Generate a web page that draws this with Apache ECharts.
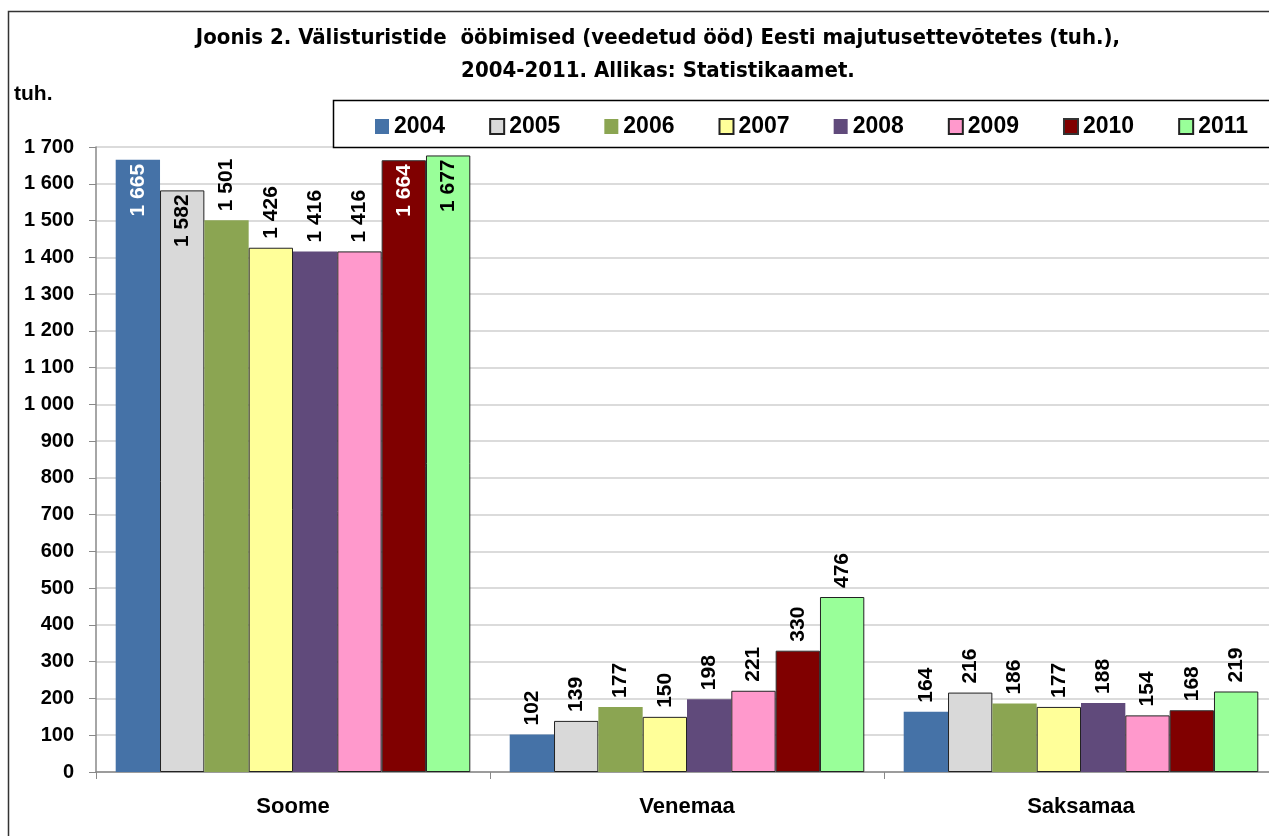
<!DOCTYPE html>
<html><head><meta charset="utf-8">
<script src="https://cdn.jsdelivr.net/npm/echarts@6/dist/echarts.min.js"></script>
<style>html,body{margin:0;padding:0;background:#fff;overflow:hidden}#c{width:1278px;height:836px}</style>
</head><body><div id="c"></div>
<script>
const categories = ['Soome', 'Venemaa', 'Saksamaa'];
const years = ['2004', '2005', '2006', '2007', '2008', '2009', '2010', '2011'];
const v2004 = [1665, 102, 164];
const v2005 = [1582, 139, 216];
const v2006 = [1501, 177, 186];
const v2007 = [1426, 150, 177];
const v2008 = [1416, 198, 188];
const v2009 = [1416, 221, 154];
const v2010 = [1664, 330, 168];
const v2011 = [1677, 476, 219];
const yTicks = [0, 100, 200, 300, 400, 500, 600, 700, 800, 900, 1000, 1100, 1200, 1300, 1400, 1500, 1600, 1700];

const values = [v2004, v2005, v2006, v2007, v2008, v2009, v2010, v2011];
const colors = ['#4572A7', '#D9D9D9', '#8BA552', '#FFFF99', '#604A7B', '#FF99CC', '#800000', '#99FF99'];
const borders = [null, '#222', null, '#222', null, '#222', '#333', '#222'];
const insideColors = ['#fff', '#000', '#000', '#000', '#fff', '#000', '#fff', '#000'];
const fmt = v => { const s = String(v); return s.length > 3 ? s.slice(0, s.length - 3) + ' ' + s.slice(-3) : s; };
const LF = 'Liberation Sans, Arial, sans-serif';
const TF = '"Liberation Sans Narrow", "DejaVu Sans Condensed", "Liberation Sans", sans-serif';

const series = years.map((y, i) => ({
  name: y,
  type: 'bar',
  barGap: 0,
  barCategoryGap: '10%',
  itemStyle: { color: colors[i], borderColor: borders[i] || colors[i], borderWidth: borders[i] ? 1 : 0 },
  label: {
    show: true, position: 'top', rotate: 90, align: 'left', verticalAlign: 'middle', distance: 9,
    fontFamily: LF, fontWeight: 'bold', fontSize: 21, color: '#000',
    formatter: p => fmt(p.value)
  },
  data: values[i].map(v => v > 1550 ? {
    value: v,
    label: { position: 'insideTop', align: 'right', distance: 4, color: insideColors[i] }
  } : v)
}));

const chart = echarts.init(document.getElementById('c'), null, { renderer: 'canvas' });
chart.setOption({
  animation: false,
  backgroundColor: '#fff',
  title: {
    text: 'Joonis 2. Välisturistide  ööbimised (veedetud ööd) Eesti majutusettevõtetes (tuh.),\n2004-2011. Allikas: Statistikaamet.',
    left: 653, top: 17, textAlign: 'center',
    textStyle: { fontFamily: TF, fontWeight: 'bold', fontSize: 22, lineHeight: 33, color: '#000' }
  },
  graphic: [
    { type: 'rect', shape: { x: 8.5, y: 11.5, width: 1300, height: 900 }, style: { fill: 'none', stroke: '#333', lineWidth: 1.5 }, z: -1 },
    { type: 'rect', shape: { x: 333.5, y: 100.5, width: 1000, height: 47 }, style: { fill: '#fff', stroke: '#000', lineWidth: 1.5 }, z: 5 },
    { type: 'text', left: 14, top: 84, style: { text: 'tuh.', fontFamily: LF, fontWeight: 'bold', fontSize: 21, fill: '#000' } }
  ],
  legend: {
    data: years, left: 370, top: 110, itemWidth: 14, itemHeight: 15, itemGap: 44, z: 10,
    icon: 'rect',
    textStyle: { fontFamily: LF, fontWeight: 'bold', fontSize: 23, color: '#000' }
  },
  grid: { left: 96, top: 147, right: 0, bottom: 64, containLabel: false },
  xAxis: {
    type: 'category', data: categories,
    axisLine: { lineStyle: { color: '#888', width: 1.5 } },
    axisTick: { show: true, length: 7, lineStyle: { color: '#888' } },
    axisLabel: { fontFamily: LF, fontWeight: 'bold', fontSize: 22, color: '#000', margin: 24 }
  },
  yAxis: {
    type: 'value', min: yTicks[0], max: yTicks[yTicks.length - 1], interval: 100,
    axisLine: { show: true, lineStyle: { color: '#888', width: 1.5 } },
    axisTick: { show: true, length: 7, lineStyle: { color: '#888' } },
    splitLine: { lineStyle: { color: '#cfcfcf', width: 1.5 } },
    axisLabel: { fontFamily: LF, fontWeight: 'bold', fontSize: 20, color: '#000', margin: 22, formatter: v => fmt(v) }
  },
  series
});
</script></body></html>
